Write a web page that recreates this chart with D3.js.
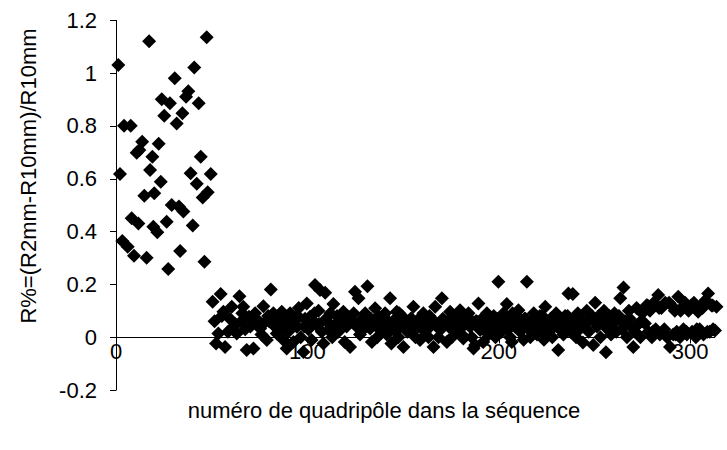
<!DOCTYPE html>
<html><head><meta charset="utf-8">
<script src="https://cdn.jsdelivr.net/npm/d3@7"></script>
<style>body{margin:0;background:#fff} text{font-family:Arial,"Liberation Sans",sans-serif;fill:#000}</style>
</head><body><svg id="c" width="727" height="450"></svg>
<script>
// High group (first quadripôles)
const highX = [17.3,47.4,1.2,40.9,30.7,37.8,36.6,23.9,28.2,43.2,34.7,25.2,31.7,4.2,7.7,13.7,10.8,12.2,22.3,19.0,44.3,2.1,17.8,39.0,49.5,23.4,42.2,14.8,20.0,47.9,45.3,29.1,32.9,35.2,8.2,11.7,19.5,21.6,26.5,40.1,3.3,6.1,9.4,16.0,33.5,27.3,46.2];
const highY = [1.12,1.135,1.03,1.02,0.98,0.93,0.91,0.90,0.885,0.885,0.847,0.838,0.808,0.80,0.80,0.739,0.698,0.708,0.732,0.683,0.683,0.617,0.632,0.62,0.617,0.588,0.58,0.535,0.544,0.548,0.528,0.50,0.494,0.475,0.45,0.43,0.418,0.397,0.437,0.422,0.364,0.342,0.308,0.30,0.326,0.258,0.285];
// Low group
const lowX = [50.5,52.3,53.5,54.7,56.1,57,58.5,60.5,61.5,63.1,64.5,65.5,66.5,67.5,68.3,69.5,71,71.8,72.7,74,75.3,76,77,78.8,80,80.9,82.2,83,84,85.5,86.6,87.5,88.3,89.2,90,91,92.7,93.5,94.5,95.5,96.5,97.9,98.8,99.7,100.5,101.4,102.2,103.2,104,104.9,105.8,106.6,107.5,108.4,109.3,110.2,111,112,113,113.6,114.8,116.2,117.5,118.8,119.5,120.5,121.4,122.3,123.5,124.9,125.8,126.7,127.5,128.5,129.3,130.2,131.4,132.8,133.7,134.5,135.4,136.5,137.3,138,139,140.6,141.5,142.2,143.2,143.9,145,146,146.7,147.6,148.5,149.4,150.2,151.2,152.3,153.7,154.5,155.4,156.5,157.3,158.9,159.8,160.6,161.5,162.5,163.3,164.1,165,165.9,166.8,167.8,168.5,169.4,170.3,171.5,172.9,173.8,174.6,175.5,176.5,177.3,178.1,179,179.8,180.7,181.5,182.5,183.3,184.2,185,185.9,186.8,187.7,188.5,189.4,190.3,191.2,191.9,192.8,193.8,194.7,195.5,196.5,197.4,198.3,199.8,200.5,201.5,202.5,203.3,204.2,205,205.9,206.8,207.7,208.5,209.5,210.3,211.2,212.2,213,213.9,214.7,215.6,216.5,217.4,218.3,219.2,220,221,222,222.8,223.6,224.3,225.3,226.2,227.1,228,229,230,231.1,232,232.9,233.8,234.7,235.6,236.4,237.5,238.7,239.5,240.4,241.3,242.2,243.1,244,245,246,247,248,249.4,250.4,251.3,252.2,253.1,254,255,256,256.9,257.8,258.7,259.6,260.5,261.4,262.3,263.5,264.3,265.2,266,267,268,269,270.3,271.2,272,273,274,275,276.4,277.3,278.2,279,280,281,282,283.3,284.2,285,286,287,288,289.5,290.3,291.2,292,293,293.8,294.7,295.6,296.5,297.4,298.3,299.2,300,301,302,303,304.2,305,306,307,308,309.4,310.3,311.2,312,313,313.8];
const lowY = [0.134,-0.024,0.014,0.163,0.096,-0.037,0.02,0.115,0.039,0.014,0.155,0.06,0.115,0.03,-0.049,0.077,0.05,-0.043,0.09,0.06,0.033,0.01,0.117,-0.011,0.06,0.18,0.09,0.04,0.014,0.07,0.096,-0.011,0.05,-0.043,0.02,0.09,-0.018,0.06,0.039,0.11,0.0,-0.056,0.07,0.127,0.03,0.077,-0.011,0.06,0.197,0.045,0.1,0.178,0.02,-0.024,0.168,0.06,0.027,0.09,0.0,0.125,0.05,0.02,0.08,0.096,-0.018,0.04,0.077,-0.037,0.06,0.172,0.039,0.147,0.01,0.07,0.03,0.09,0.193,0.033,-0.018,0.06,0.109,0.0,0.08,0.027,0.05,0.09,0.01,0.06,0.147,-0.024,0.03,0.07,0.096,0.0,0.039,0.08,-0.037,0.05,0.02,0.027,0.07,0.115,0.0,0.05,-0.011,0.08,0.09,0.02,0.06,0.0,0.039,0.07,-0.037,0.115,0.05,0.0,0.027,0.147,0.06,-0.018,0.04,0.096,0.0,0.07,0.02,0.033,0.06,0.102,0.01,-0.005,0.05,0.08,0.09,0.039,0.0,-0.043,-0.03,0.06,0.127,0.027,0.07,-0.018,0.04,0.09,0.01,0.06,0.03,0.08,0.0,0.21,0.05,0.02,0.09,0.06,0.125,0.03,0.0,-0.018,0.06,0.04,0.08,0.102,0.02,0.05,-0.01,0.07,0.21,0.03,0.0,0.06,0.09,0.04,0.01,0.07,0.03,0.08,-0.01,0.115,0.05,0.02,0.07,0.0,0.04,0.09,-0.049,0.03,0.06,0.01,0.08,0.04,0.165,0.02,0.163,0.06,0.0,0.09,0.03,0.07,-0.02,0.05,0.1,0.02,0.07,-0.03,0.13,0.04,0.08,0.0,0.06,0.1,-0.057,0.03,0.08,0.01,0.05,0.09,0.02,0.07,0.147,0.03,0.188,0.06,0.0,0.1,0.04,-0.037,0.02,0.11,0.05,0.0,0.09,0.052,0.121,0.02,0.1,0.0,0.13,0.03,0.159,0.01,0.11,0.02,0.13,0.0,-0.037,0.12,0.01,0.1,0.02,0.153,0.0,0.11,0.03,0.13,0.01,0.1,0.115,0.02,0.13,0.0,0.096,0.03,0.12,0.01,0.14,0.165,0.02,0.12,0.03,0.025,0.115];
// Dense core of the low group
const coreX = [51.5,55.3,59.5,62.3,66,70.2,73.3,76.9,79.5,81.7,85,88.9,92,95,98.3,101,103.7,106.1,109.8,112.5,115.5,118,121,124.2,127,129.8,133.2,136,139.6,142.7,145.5,148,151.7,154,157.8,161,163.8,167.2,170.8,173.4,176,178.6,181.9,184.6,188,190.8,193.3,196,199,202,204.7,207.2,210.8,213.5,216,218.8,221.5,224.8,227.6,230.5,233.3,236,238,241,243.6,246.5,248.7,251.8,254.5,257.3,260,262.8,265.6,268.5,271.6,274.5,277.8,280.5,283.8,286.5,289,292.5,295,298,300.5,303.5,306.5,309,311.8];
const coreY = [0.06,0.08,0.07,0.05,0.09,0.04,0.07,0.05,0.08,0.06,0.03,0.07,0.05,0.08,0.04,0.06,0.09,0.05,0.07,0.04,0.08,0.06,0.05,0.09,0.04,0.06,0.07,0.05,0.08,0.04,0.06,0.09,0.05,0.07,0.04,0.06,0.08,0.05,0.07,0.06,0.04,0.08,0.05,0.07,0.06,0.04,0.08,0.05,0.07,0.04,0.06,0.09,0.05,0.07,0.04,0.06,0.08,0.05,0.07,0.04,0.06,0.08,0.05,0.07,0.04,0.06,0.08,0.05,0.07,0.04,0.06,0.08,0.05,0.07,0.04,0.06,0.12,0.02,0.11,0.03,0.13,0.01,0.1,0.02,0.12,0.03,0.11,0.02,0.12];
const yTicks = [-0.2,0,0.2,0.4,0.6,0.8,1,1.2];
const yTickLabels = ["-0.2","0","0.2","0.4","0.6","0.8","1","1.2"];
const xTicks = [0,100,200,300];
const xTickLabels = ["0","100","200","300"];
const xTitle = "numéro de quadripôle dans la séquence";
const yTitle = "R%=(R2mm-R10mm)/R10mm";

const svg = d3.select("#c");
const x = d3.scaleLinear().domain([0,313]).range([116,715]);
const y = d3.scaleLinear().domain([-0.2,1.2]).range([390,20]);
const FS = 22;

// y axis
svg.append("line").attr("x1",116.5).attr("x2",116.5).attr("y1",y(1.2)).attr("y2",y(-0.2)).attr("stroke","#000");
svg.selectAll(".yt").data(yTicks).enter().append("line")
  .attr("x1",110).attr("x2",116.5).attr("y1",d=>Math.round(y(d))+0.5).attr("y2",d=>Math.round(y(d))+0.5).attr("stroke","#000");
svg.selectAll(".yl").data(yTicks).enter().append("text")
  .attr("x",97).attr("y",d=>y(d)).attr("dy","0.35em").attr("text-anchor","end").attr("font-size",FS)
  .text((d,i)=>yTickLabels[i]);

// x axis at y=0
const y0 = Math.round(y(0))+0.5;
svg.append("line").attr("x1",116).attr("x2",x(313)).attr("y1",y0).attr("y2",y0).attr("stroke","#000");
svg.selectAll(".xt").data(xTicks).enter().append("line")
  .attr("x1",d=>Math.round(x(d))+0.5).attr("x2",d=>Math.round(x(d))+0.5).attr("y1",y0).attr("y2",y0+6).attr("stroke","#000");
svg.selectAll(".xl").data(xTicks).enter().append("text")
  .attr("x",d=>x(d)).attr("y",359).attr("text-anchor","middle").attr("font-size",FS)
  .text((d,i)=>xTickLabels[i]);

// points
const r = 7;
const diamond = `M0,${-r}L${r},0L0,${r}L${-r},0Z`;
const pts = highX.map((v,i)=>[v,highY[i]])
  .concat(lowX.map((v,i)=>[v,lowY[i]]))
  .concat(coreX.map((v,i)=>[v,coreY[i]]));
svg.selectAll(".p").data(pts).enter().append("path")
  .attr("d",diamond).attr("fill","#000")
  .attr("transform",d=>`translate(${x(d[0])},${y(d[1])})`);

// titles
svg.append("text").attr("x",384).attr("y",418).attr("text-anchor","middle").attr("font-size",FS).text(xTitle);
svg.append("text").attr("transform","translate(36,176) rotate(-90)").attr("text-anchor","middle").attr("font-size",FS).text(yTitle);
</script></body></html>
